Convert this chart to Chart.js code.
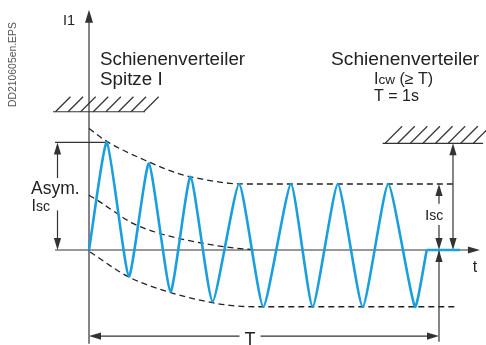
<!DOCTYPE html>
<html>
<head>
<meta charset="utf-8">
<script src="https://cdn.jsdelivr.net/npm/chart.js@4/dist/chart.umd.min.js"></script>
<style>
  body { margin: 0; background: #fff; }
</style>
</head>
<body>
<canvas id="grafico-kurzschluss" width="486" height="345"></canvas>
<script>
const ctx = document.getElementById('grafico-kurzschluss').getContext('2d');

// Curva de cortocircuito - t en fracciones de T, corriente en múltiplos de Isc
const tiempoOnda = [0, 0.051, 0.114, 0.171, 0.233, 0.290, 0.353, 0.429, 0.498, 0.577, 0.639, 0.711, 0.782, 0.855, 0.931, 0.965];
const corrienteOnda = [0, 1.63, -0.40, 1.31, -0.63, 1.11, -0.78, 1.0, -0.86, 1.0, -0.86, 1.0, -0.86, 1.0, -0.86, 0];

// tramo final (corriente cortada)
const tiempoCola = [0.965, 1.06];
const corrienteCola = [0, 0];

const tiempoSup = [0, 0.051, 0.171, 0.26, 0.317, 0.403, 0.46, 1.05];
const envolventeSup = [1.84, 1.645, 1.335, 1.15, 1.08, 1.01, 1.0, 1.0];

const tiempoDC = [0, 0.022, 0.127, 0.203, 0.317, 0.40, 0.477];
const componenteDC = [0.83, 0.76, 0.40, 0.25, 0.11, 0.04, 0];

const tiempoInf = [0.003, 0.114, 0.233, 0.317, 0.403, 0.48, 1.046];
const envolventeInf = [-0.03, -0.41, -0.645, -0.76, -0.84, -0.86, -0.86];

// niveles de las cotas
const nivelSpitze = 2.095;
const nivelIcw = 1.617;
const nivelAsym = 1.63;
const nivelIsc = 1.0;

const textosIzq = ['Schienenverteiler', 'Spitze I'];
const textosDer = ['Schienenverteiler', 'Icw (≥ T)', 'T = 1s'];
const textoAsym = ['Asym.', 'Isc'];
const etiquetasEjes = ['I1', 't', 'T'];
const codigoFigura = 'DD210605en.EPS';

const puntos = (xs, ys) => xs.map((x, i) => ({ x, y: ys[i] }));

const FUENTE = '"Liberation Sans", Arial, sans-serif';
const AZUL = '#1a9fdc';
const NEGRO = '#222';

function linea(c, x1, y1, x2, y2) {
  c.beginPath();
  c.moveTo(x1, y1);
  c.lineTo(x2, y2);
  c.stroke();
}

// punta de flecha rellena, dir = 'up' | 'down' | 'left' | 'right'
function punta(c, x, y, dir, largo = 12, ancho = 3.6) {
  c.beginPath();
  c.moveTo(x, y);
  if (dir === 'up') { c.lineTo(x - ancho, y + largo); c.lineTo(x + ancho, y + largo); }
  if (dir === 'down') { c.lineTo(x - ancho, y - largo); c.lineTo(x + ancho, y - largo); }
  if (dir === 'left') { c.lineTo(x + largo, y - ancho); c.lineTo(x + largo, y + ancho); }
  if (dir === 'right') { c.lineTo(x - largo, y - ancho); c.lineTo(x - largo, y + ancho); }
  c.closePath();
  c.fill();
}

function rayado(c, x0, x1, y, n, paso, alto) {
  linea(c, x0, y, x1, y);
  for (let i = 0; i < n; i++) {
    const xs = x0 + 2.5 + i * paso;
    linea(c, xs, y, xs + alto, y - alto);
  }
}

// "Isc" / "Icw (≥ T)": la I grande, el índice más pequeño
function textoIndice(c, txt, x, y, grande, chico) {
  const esp = txt.indexOf(' ');
  const partes = [[txt[0], grande], [esp < 0 ? txt.slice(1) : txt.slice(1, esp), chico], [esp < 0 ? '' : txt.slice(esp), grande]];
  c.textAlign = 'left';
  partes.forEach(([t, s]) => {
    if (!t) return;
    c.font = s + 'px ' + FUENTE;
    c.fillText(t, x, y);
    x += c.measureText(t).width;
  });
}

const dibujo = {
  id: 'dibujo',
  beforeDatasetsDraw(chart) {
    const c = chart.ctx;
    const X = v => chart.scales.x.getPixelForValue(v);
    const Y = v => chart.scales.y.getPixelForValue(v);
    c.save();
    c.strokeStyle = '#333';
    c.fillStyle = '#333';
    c.lineWidth = 1.2;

    // eje I1
    linea(c, X(0), Y(-1.42), X(0), Y(3.5));
    punta(c, X(0), Y(3.64), 'up', 13, 4);
    // eje t
    linea(c, X(-0.097), Y(0), X(1.09), Y(0));
    punta(c, X(1.117), Y(0), 'right', 12, 3.6);

    // cota Asym.
    linea(c, X(-0.097), Y(nivelAsym), X(0.051), Y(nivelAsym));
    linea(c, X(-0.09), Y(nivelAsym) + 4, X(-0.09), Y(1.09));
    linea(c, X(-0.09), Y(0.6), X(-0.09), Y(0) - 4);
    punta(c, X(-0.09), Y(nivelAsym), 'up');
    punta(c, X(-0.09), Y(0), 'down');

    // cota Isc (derecha)
    linea(c, X(1.0), Y(nivelIsc) + 4, X(1.0), Y(0.7));
    linea(c, X(1.0), Y(0.38), X(1.0), Y(0) - 4);
    punta(c, X(1.0), Y(nivelIsc), 'up');
    punta(c, X(1.0), Y(0), 'down');
    linea(c, X(1.0), Y(0), X(1.0), Y(-1.39));
    punta(c, X(1.0), Y(0), 'up');

    // cota Icw
    linea(c, X(1.04), Y(nivelIcw) + 4, X(1.04), Y(0) - 4);
    punta(c, X(1.04), Y(nivelIcw), 'up');
    punta(c, X(1.04), Y(0), 'down');

    // barras rayadas
    rayado(c, X(-0.103), X(0.16), Y(nivelSpitze), 8, 12.6, 15);
    rayado(c, X(0.839), X(1.126), Y(nivelIcw), 8, 12.6, 17);

    // cota T
    const yT = Y(-1.304);
    linea(c, X(0) + 4, yT, X(0.43), yT);
    linea(c, X(0.49), yT, X(1.0) - 4, yT);
    punta(c, X(0), yT, 'left');
    punta(c, X(1.0), yT, 'right');
    c.restore();
  },
  afterDatasetsDraw(chart) {
    const c = chart.ctx;
    const X = v => chart.scales.x.getPixelForValue(v);
    c.save();
    c.fillStyle = NEGRO;
    c.textBaseline = 'alphabetic';

    c.font = '14.5px ' + FUENTE;
    c.fillText(etiquetasEjes[0], 63, 25);
    c.font = '16px ' + FUENTE;
    c.textAlign = 'center';
    c.fillText(etiquetasEjes[1], 475, 272);
    c.font = '18px ' + FUENTE;
    c.fillText(etiquetasEjes[2], X(0.46), 345);

    c.textAlign = 'left';
    c.font = '18.8px ' + FUENTE;
    c.fillText(textosIzq[0], 100, 65);
    c.fillText(textosIzq[1], 100, 85);
    c.font = '19.2px ' + FUENTE;
    c.fillText(textosDer[0], 331, 65);
    textoIndice(c, textosDer[1], 374, 84, 16, 13.5);
    c.font = '16px ' + FUENTE;
    c.fillText(textosDer[2], 374, 101);

    c.font = '17.5px ' + FUENTE;
    c.fillText(textoAsym[0], 31, 193.5);
    textoIndice(c, textoAsym[1], 31.5, 211, 16, 14);
    textoIndice(c, textoAsym[1], 425, 220, 15.5, 14);

    // código de la figura, vertical
    c.save();
    c.translate(15.5, 107);
    c.rotate(-Math.PI / 2);
    c.fillStyle = '#555';
    c.font = '10.4px ' + FUENTE;
    c.fillText(codigoFigura, 0, 0);
    c.restore();
    c.restore();
  }
};

const discontinua = {
  borderColor: '#222',
  borderWidth: 1.3,
  borderDash: [6, 4],
  pointRadius: 0,
  fill: false,
  cubicInterpolationMode: 'monotone'
};

new Chart(ctx, {
  type: 'line',
  data: {
    datasets: [
      {
        label: 'I1',
        data: puntos(tiempoOnda, corrienteOnda),
        borderColor: AZUL,
        borderWidth: 2.6,
        pointRadius: 0,
        tension: 0.17,
        fill: false
      },
      {
        label: 'I1 aus',
        data: puntos(tiempoCola, corrienteCola),
        borderColor: AZUL,
        borderWidth: 2.6,
        pointRadius: 0,
        fill: false
      },
      { label: 'Hüllkurve oben', data: puntos(tiempoSup, envolventeSup), ...discontinua },
      { label: 'Gleichanteil', data: puntos(tiempoDC, componenteDC), ...discontinua },
      { label: 'Hüllkurve unten', data: puntos(tiempoInf, envolventeInf), ...discontinua }
    ]
  },
  options: {
    responsive: false,
    animation: false,
    layout: { padding: 0 },
    plugins: {
      legend: { display: false },
      tooltip: { enabled: false }
    },
    scales: {
      x: { type: 'linear', display: false, min: -0.2543, max: 1.1343 },
      y: { type: 'linear', display: false, min: -1.4394, max: 3.7879 }
    }
  },
  plugins: [dibujo]
});
</script>
</body>
</html>
